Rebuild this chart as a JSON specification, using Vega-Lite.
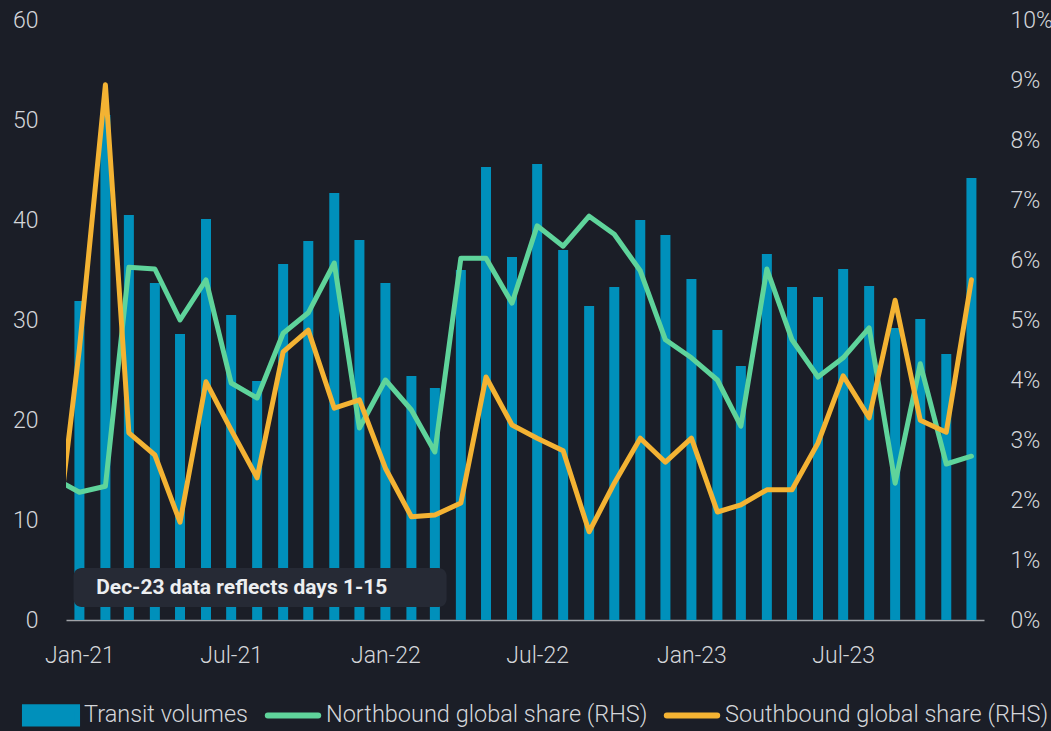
{
  "$schema": "https://vega.github.io/schema/vega-lite/v6.json",
  "width": 918,
  "height": 600,
  "autosize": {"type": "none"},
  "padding": {"left": 66, "top": 20, "right": 67, "bottom": 111},
  "background": "#1b1e27",
  "config": {
    "view": {"stroke": null},
    "font": "Roboto",
    "axis": {
      "labelFont": "Roboto",
      "labelFontSize": 23,
      "labelFontWeight": 300,
      "labelColor": "#d4d6da",
      "grid": false,
      "ticks": false,
      "tickSize": 0,
      "domain": false,
      "title": null
    }
  },
  "datasets": {
    "monthly": [
      {"month": "2020-12-01T00:00:00", "transit": null, "northbound": 2.37, "southbound": 0.9},
      {"month": "2021-01-01T00:00:00", "transit": 31.9, "northbound": 2.13, "southbound": 4.52},
      {"month": "2021-02-01T00:00:00", "transit": 50.5, "northbound": 2.23, "southbound": 8.92},
      {"month": "2021-03-01T00:00:00", "transit": 40.5, "northbound": 5.88, "southbound": 3.12},
      {"month": "2021-04-01T00:00:00", "transit": 33.7, "northbound": 5.85, "southbound": 2.75},
      {"month": "2021-05-01T00:00:00", "transit": 28.6, "northbound": 5.0, "southbound": 1.63},
      {"month": "2021-06-01T00:00:00", "transit": 40.1, "northbound": 5.67, "southbound": 3.97},
      {"month": "2021-07-01T00:00:00", "transit": 30.5, "northbound": 3.95, "southbound": 3.17},
      {"month": "2021-08-01T00:00:00", "transit": 23.9, "northbound": 3.7, "southbound": 2.37},
      {"month": "2021-09-01T00:00:00", "transit": 35.6, "northbound": 4.78, "southbound": 4.47},
      {"month": "2021-10-01T00:00:00", "transit": 37.9, "northbound": 5.12, "southbound": 4.83},
      {"month": "2021-11-01T00:00:00", "transit": 42.7, "northbound": 5.95, "southbound": 3.53},
      {"month": "2021-12-01T00:00:00", "transit": 38.0, "northbound": 3.2, "southbound": 3.67},
      {"month": "2022-01-01T00:00:00", "transit": 33.7, "northbound": 4.0, "southbound": 2.53},
      {"month": "2022-02-01T00:00:00", "transit": 24.4, "northbound": 3.5, "southbound": 1.72},
      {"month": "2022-03-01T00:00:00", "transit": 23.2, "northbound": 2.8, "southbound": 1.75},
      {"month": "2022-04-01T00:00:00", "transit": 35.0, "northbound": 6.03, "southbound": 1.95},
      {"month": "2022-05-01T00:00:00", "transit": 45.3, "northbound": 6.03, "southbound": 4.05},
      {"month": "2022-06-01T00:00:00", "transit": 36.3, "northbound": 5.28, "southbound": 3.25},
      {"month": "2022-07-01T00:00:00", "transit": 45.6, "northbound": 6.57, "southbound": 3.03},
      {"month": "2022-08-01T00:00:00", "transit": 37.0, "northbound": 6.23, "southbound": 2.82},
      {"month": "2022-09-01T00:00:00", "transit": 31.4, "northbound": 6.73, "southbound": 1.47},
      {"month": "2022-10-01T00:00:00", "transit": 33.3, "northbound": 6.43, "southbound": 2.28},
      {"month": "2022-11-01T00:00:00", "transit": 40.0, "northbound": 5.82, "southbound": 3.03},
      {"month": "2022-12-01T00:00:00", "transit": 38.5, "northbound": 4.67, "southbound": 2.63},
      {"month": "2023-01-01T00:00:00", "transit": 34.1, "northbound": 4.37, "southbound": 3.03},
      {"month": "2023-02-01T00:00:00", "transit": 29.0, "northbound": 4.0, "southbound": 1.8},
      {"month": "2023-03-01T00:00:00", "transit": 25.4, "northbound": 3.23, "southbound": 1.92},
      {"month": "2023-04-01T00:00:00", "transit": 36.6, "northbound": 5.85, "southbound": 2.17},
      {"month": "2023-05-01T00:00:00", "transit": 33.3, "northbound": 4.67, "southbound": 2.17},
      {"month": "2023-06-01T00:00:00", "transit": 32.3, "northbound": 4.05, "southbound": 2.95},
      {"month": "2023-07-01T00:00:00", "transit": 35.1, "northbound": 4.37, "southbound": 4.07},
      {"month": "2023-08-01T00:00:00", "transit": 33.4, "northbound": 4.87, "southbound": 3.37},
      {"month": "2023-09-01T00:00:00", "transit": 29.2, "northbound": 2.28, "southbound": 5.33},
      {"month": "2023-10-01T00:00:00", "transit": 30.1, "northbound": 4.27, "southbound": 3.33},
      {"month": "2023-11-01T00:00:00", "transit": 26.6, "northbound": 2.6, "southbound": 3.13},
      {"month": "2023-12-01T00:00:00", "transit": 44.2, "northbound": 2.73, "southbound": 5.67}
    ],
    "note": [{"label": "Dec-23 data reflects days 1-15"}]
  },
  "data": {"name": "monthly"},
  "layer": [
    {
      "mark": {"type": "bar", "width": 10},
      "encoding": {
        "x": {
          "field": "month",
          "type": "temporal",
          "scale": {"domain": [{"year": 2020, "month": 12, "date": 16}, {"year": 2023, "month": 12, "date": 16}], "nice": false, "padding": 0},
          "axis": {
            "values": [
              {"year": 2021, "month": 1, "date": 1},
              {"year": 2021, "month": 7, "date": 1},
              {"year": 2022, "month": 1, "date": 1},
              {"year": 2022, "month": 7, "date": 1},
              {"year": 2023, "month": 1, "date": 1},
              {"year": 2023, "month": 7, "date": 1}
            ],
            "format": "%b-%y",
            "domain": true,
            "domainColor": "#a0a3a8",
            "domainWidth": 1.5,
            "labelPadding": 24,
            "labelFlush": false,
            "labelOverlap": false
          }
        },
        "y": {
          "field": "transit",
          "type": "quantitative",
          "scale": {"domain": [0, 60], "nice": false},
          "axis": {"values": [0, 10, 20, 30, 40, 50, 60], "labelPadding": 28, "orient": "left"}
        },
        "color": {
          "datum": "Transit volumes",
          "type": "nominal",
          "scale": {
            "domain": ["Transit volumes", "Northbound global share (RHS)", "Southbound global share (RHS)"],
            "range": ["#0090bb", "#5fd49b", "#f4b333"]
          },
          "legend": {
            "title": null,
            "orient": "none",
            "legendX": -46,
            "legendY": 664,
            "direction": "horizontal",
            "symbolSize": 3136,
            "symbolType": "square",
            "labelFont": "Roboto",
            "labelFontSize": 23.5,
            "labelFontWeight": 300,
            "labelColor": "#d4d6da",
            "labelOffset": 2,
            "columnPadding": 5,
            "labelLimit": 500,
            "encode": {
              "symbols": {
                "update": {
                  "shape": {"signal": "datum.value === 'Transit volumes' ? 'M-0.93,-0.29H0.93V0.29H-0.93Z' : 'M-0.93,-0.29M-0.93,0.29M-0.9,0H0.9'"},
                  "fill": {"signal": "datum.value === 'Transit volumes' ? '#0090bb' : 'transparent'"},
                  "stroke": {"signal": "datum.value === 'Transit volumes' ? 'transparent' : scale('color', datum.value)"},
                  "strokeWidth": {"value": 6},
                  "strokeCap": {"value": "round"},
                  "opacity": {"value": 1}
                }
              }
            }
          }
        }
      }
    },
    {
      "data": {"name": "note"},
      "mark": {"type": "rect", "fill": "#262a35", "cornerRadius": 8},
      "encoding": {
        "x": {"datum": {"year": 2020, "month": 12, "date": 25}, "type": "temporal"},
        "x2": {"datum": {"year": 2022, "month": 3, "date": 15}},
        "y": {"datum": 1.3, "type": "quantitative", "scale": {"domain": [0, 60], "nice": false}, "axis": null},
        "y2": {"datum": 5.2}
      }
    },
    {
      "data": {"name": "note"},
      "mark": {"type": "text", "align": "left", "baseline": "middle", "font": "Roboto", "fontSize": 21, "fontWeight": "bold", "color": "#eceef0"},
      "encoding": {
        "x": {"datum": {"year": 2021, "month": 1, "date": 21}, "type": "temporal"},
        "y": {"datum": 3.25, "type": "quantitative", "scale": {"domain": [0, 60], "nice": false}, "axis": null},
        "text": {"field": "label"}
      }
    },
    {
      "mark": {"type": "line", "strokeWidth": 5, "strokeCap": "round", "strokeJoin": "round", "clip": true},
      "encoding": {
        "x": {"field": "month", "type": "temporal"},
        "y": {
          "field": "northbound",
          "type": "quantitative",
          "scale": {"domain": [0, 10], "nice": false},
          "axis": {"orient": "right", "values": [0, 1, 2, 3, 4, 5, 6, 7, 8, 9, 10], "labelExpr": "datum.value + '%'", "labelPadding": 26}
        },
        "color": {"datum": "Northbound global share (RHS)", "type": "nominal"}
      }
    },
    {
      "mark": {"type": "line", "strokeWidth": 5, "strokeCap": "round", "strokeJoin": "round", "clip": true},
      "encoding": {
        "x": {"field": "month", "type": "temporal"},
        "y": {"field": "southbound", "type": "quantitative", "scale": {"domain": [0, 10], "nice": false}, "axis": null},
        "color": {"datum": "Southbound global share (RHS)", "type": "nominal"}
      }
    }
  ],
  "resolve": {"scale": {"y": "independent"}}
}
